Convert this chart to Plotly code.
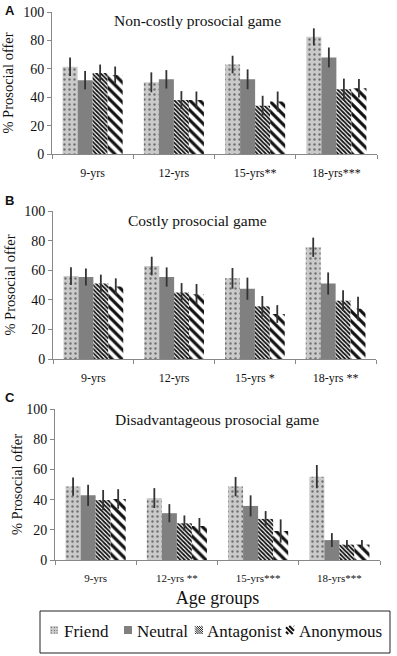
import plotly.graph_objects as go

# ---------------- data ----------------
age_groups = ["9-yrs", "12-yrs", "15-yrs", "18-yrs"]
series = ["Friend", "Neutral", "Antagonist", "Anonymous"]

# Panel A: Non-costly prosocial game (Friend, Neutral, Antagonist, Anonymous)
noncostly_means = [
    [61.5, 50.5, 63.0, 82.5],
    [52.0, 52.6, 52.6, 68.0],
    [57.0, 38.0, 34.0, 45.6],
    [55.6, 38.0, 37.0, 46.3],
]
noncostly_errs = [
    [6.5, 7.0, 6.2, 6.0],
    [6.5, 6.5, 7.0, 7.0],
    [6.0, 6.3, 7.0, 7.5],
    [6.0, 6.0, 7.0, 6.5],
]
noncostly_sig = ["", "", "**", "***"]

# Panel B: Costly prosocial game
costly_means = [
    [56.0, 62.8, 54.5, 75.5],
    [55.4, 55.4, 47.5, 51.0],
    [51.0, 45.0, 35.6, 39.4],
    [49.0, 43.7, 30.4, 34.0],
]
costly_errs = [
    [6.0, 6.3, 7.0, 6.5],
    [5.7, 6.5, 7.5, 7.5],
    [6.0, 6.3, 7.0, 7.0],
    [5.5, 7.0, 6.0, 8.0],
]
costly_sig = ["", "", " *", " **"]

# Panel C: Disadvantageous prosocial game
disadv_means = [
    [48.6, 41.0, 48.6, 55.2],
    [42.8, 31.0, 35.8, 13.2],
    [39.7, 24.3, 27.2, 10.2],
    [40.4, 22.5, 19.2, 10.2],
]
disadv_errs = [
    [6.0, 6.6, 6.4, 7.7],
    [7.0, 6.0, 7.0, 4.6],
    [6.7, 5.2, 5.2, 3.0],
    [6.5, 5.3, 7.7, 3.0],
]
disadv_sig = ["", " **", "***", "***"]

panel_titles = ["Non-costly prosocial game", "Costly prosocial game",
                "Disadvantageous prosocial game"]
panel_letters = ["A", "B", "C"]
y_title = "% Prosocial offer"
x_title = "Age groups"

# ---------------- layout helpers ----------------
W, H = 397, 656
SERIF = "Liberation Serif, Times New Roman, serif"
INK = "#111111"


def px(x):
    return x / W


def py(y):
    return 1 - y / H


styles = [
    dict(color="#cacaca", line=dict(width=0),
         pattern=dict(shape=".", fgcolor="#707070", bgcolor="#cacaca",
                      size=5, solidity=0.18, fillmode="replace")),
    dict(color="#808080", line=dict(width=0)),
    dict(color="#ffffff", line=dict(width=0),
         pattern=dict(shape="\\", fgcolor="#111111", bgcolor="#ffffff",
                      size=3, solidity=0.6, fillmode="replace")),
    dict(color="#ffffff", line=dict(width=0),
         pattern=dict(shape="\\", fgcolor="#111111", bgcolor="#ffffff",
                      size=7, solidity=0.45, fillmode="replace")),
]

panels = [
    dict(means=noncostly_means, errs=noncostly_errs, sig=noncostly_sig,
         xdom=(52, 377), ydom=(12, 154), tpos=(197, 20), ly=10, tf=12, ys=8),
    dict(means=costly_means, errs=costly_errs, sig=costly_sig,
         xdom=(53, 376), ydom=(211, 359), tpos=(197, 220), ly=200, tf=12, ys=5),
    dict(means=disadv_means, errs=disadv_errs, sig=disadv_sig,
         xdom=(55, 380), ydom=(409, 560), tpos=(217, 419), ly=397, tf=11, ys=0),
]

fig = go.Figure()
annotations = []
shapes = []

for pi, p in enumerate(panels):
    n = pi + 1
    xa = "x" if n == 1 else f"x{n}"
    ya = "y" if n == 1 else f"y{n}"
    for si, name in enumerate(series):
        fig.add_trace(go.Bar(
            x=age_groups, y=p["means"][si], name=name,
            xaxis=xa, yaxis=ya, marker=styles[si], showlegend=False,
            error_y=dict(type="data", array=p["errs"][si], color="#333333",
                         thickness=1.8, width=0),
        ))
    ticktext = [g + s for g, s in zip(age_groups, p["sig"])]
    xkey = "xaxis" if n == 1 else f"xaxis{n}"
    ykey = "yaxis" if n == 1 else f"yaxis{n}"
    xcfg = dict(
        domain=[px(p["xdom"][0]), px(p["xdom"][1])], anchor=ya,
        type="category", tickvals=age_groups, ticktext=ticktext,
        tickson="boundaries", ticks="outside", ticklen=4, tickcolor="#888888",
        showline=True, linecolor="#888888", linewidth=1, showgrid=False,
        tickfont=dict(family=SERIF, size=p["tf"], color=INK),
        ticklabelstandoff=8, automargin=False, fixedrange=True,
    )
    if n == 3:
        xcfg["title"] = dict(text=x_title, font=dict(family=SERIF, size=18, color=INK),
                             standoff=8)
    fig.update_layout({xkey: xcfg})
    fig.update_layout({ykey: dict(
        domain=[py(p["ydom"][1]), py(p["ydom"][0])], anchor=xa,
        range=[0, 100], tick0=0, dtick=20, ticks="outside", ticklen=4,
        tickcolor="#888888", showline=True, linecolor="#888888", linewidth=1,
        showgrid=False, zeroline=False,
        tickfont=dict(family=SERIF, size=14, color=INK),
        title=dict(text=y_title, font=dict(family=SERIF, size=14.5, color=INK),
                   standoff=p["ys"]),
        automargin=False, fixedrange=True,
    )})
    annotations.append(dict(
        text=panel_titles[pi], x=px(p["tpos"][0]), y=py(p["tpos"][1]),
        xref="paper", yref="paper", xanchor="center", yanchor="middle",
        showarrow=False, font=dict(family=SERIF, size=15.5, color=INK)))
    annotations.append(dict(
        text="<b>" + panel_letters[pi] + "</b>", x=px(3), y=py(p["ly"]),
        xref="paper", yref="paper", xanchor="left", yanchor="middle",
        showarrow=False, font=dict(family="Liberation Sans", size=13, color=INK)))

# ---------------- legend (drawn as decoration) ----------------
shapes.append(dict(type="rect", xref="paper", yref="paper",
                   x0=px(40), x1=px(390), y0=py(653), y1=py(611),
                   line=dict(color="#222222", width=1), fillcolor="rgba(0,0,0,0)"))


def hatch_path(x0, y0, s, step):
    segs = []
    c = -s + step / 2
    while c < s:
        pts = []
        for t in (0, s):
            xx = t + c
            if 0 <= xx <= s:
                pts.append((xx, t))
            yy = t - c
            if 0 <= yy <= s:
                pts.append((t, yy))
        pts = sorted(set(pts))
        if len(pts) >= 2:
            a, b = pts[0], pts[-1]
            segs.append(f"M{px(x0 + a[0])},{py(y0 + a[1])} L{px(x0 + b[0])},{py(y0 + b[1])}")
        c += step
    return " ".join(segs)


icon_x = [50, 124, 195, 286]
text_x = [62, 135, 205, 297]
iy, isz = 626, 8
for si, name in enumerate(series):
    x0 = icon_x[si]
    fill = ["#cacaca", "#808080", "#ffffff", "#ffffff"][si]
    shapes.append(dict(type="rect", xref="paper", yref="paper",
                       x0=px(x0), x1=px(x0 + isz), y0=py(iy + isz), y1=py(iy),
                       line=dict(width=0), fillcolor=fill))
    if si == 0:
        for dx in (1.5, 4.5, 7):
            for dy in (1.5, 4.5, 7):
                shapes.append(dict(type="rect", xref="paper", yref="paper",
                                   x0=px(x0 + dx - 0.5), x1=px(x0 + dx + 0.5),
                                   y0=py(iy + dy + 0.5), y1=py(iy + dy - 0.5),
                                   line=dict(width=0), fillcolor="#707070"))
    elif si == 2:
        shapes.append(dict(type="path", xref="paper", yref="paper",
                           path=hatch_path(x0, iy, isz, 2.2),
                           line=dict(color="#111111", width=1)))
    elif si == 3:
        shapes.append(dict(type="path", xref="paper", yref="paper",
                           path=hatch_path(x0, iy, isz, 4.5),
                           line=dict(color="#111111", width=2)))
    annotations.append(dict(
        text=name, x=px(text_x[si]), y=py(631), xref="paper", yref="paper",
        xanchor="left", yanchor="middle", showarrow=False,
        font=dict(family=SERIF, size=17, color=INK)))

fig.update_layout(
    width=W, height=H, margin=dict(l=0, r=0, t=0, b=0),
    barmode="group", bargap=0.26, bargroupgap=0,
    plot_bgcolor="white", paper_bgcolor="white",
    font=dict(family=SERIF, color=INK),
    showlegend=False, annotations=annotations, shapes=shapes,
)

fig.write_html(
    "out.html",
    config={"displayModeBar": False, "staticPlot": True},
    post_script="document.body.style.margin='0';document.body.style.overflow='hidden';",
)
